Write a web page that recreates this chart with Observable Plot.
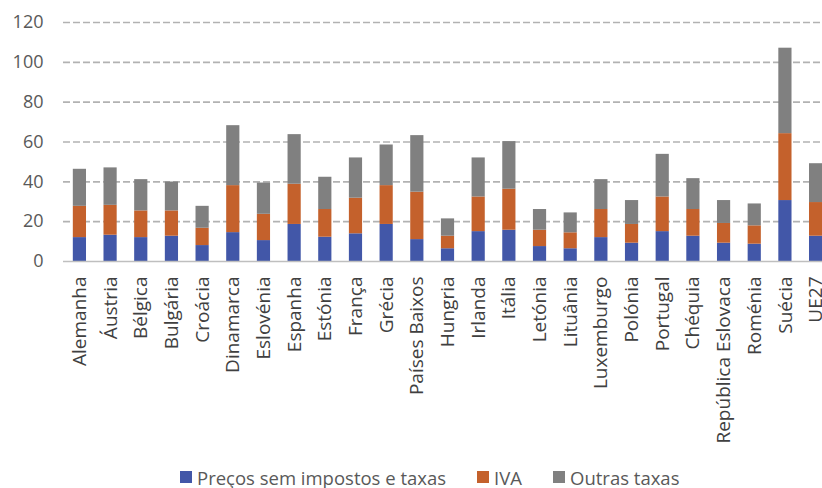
<!DOCTYPE html>
<html>
<head>
<meta charset="utf-8">
<script src="https://cdn.jsdelivr.net/npm/d3@7"></script>
<script src="https://cdn.jsdelivr.net/npm/@observablehq/plot@0.6"></script>
<style>
  html, body { margin: 0; padding: 0; background: #fff; overflow: hidden; }
  body { width: 822px; height: 488px; font-family: "Open Sans", sans-serif; }
  #chart { width: 822px; overflow: hidden; }
  #chart svg { display: block; max-width: none; }
  .legend { display: flex; align-items: center; height: 26px; margin-left: 180px; gap: 31px; font-size: 18.5px; color: #595959; }
  .legend .item { display: flex; align-items: center; gap: 5px; white-space: nowrap; }
  .legend .sw { width: 12px; height: 12px; display: inline-block; }
</style>
</head>
<body>
<div id="chart"></div>
<div class="legend" id="legend"></div>
<script>
const countries = ["Alemanha","Áustria","Bélgica","Bulgária","Croácia","Dinamarca","Eslovénia","Espanha","Estónia","França","Grécia","Países Baixos","Hungria","Irlanda","Itália","Letónia","Lituânia","Luxemburgo","Polónia","Portugal","Chéquia","República Eslovaca","Roménia","Suécia","UE27"];
const precos = [12.0,13.2,12.0,12.7,8.0,14.5,10.5,18.6,12.2,13.9,18.6,11.0,6.4,15.0,15.7,7.5,6.4,12.0,9.2,15.0,12.7,9.2,8.7,30.6,12.7];
const iva    = [15.7,15.0,13.4,12.7,8.7,23.6,13.2,20.2,13.9,17.9,19.5,23.8,6.3,17.4,20.6,8.2,8.0,14.1,9.4,17.4,13.4,9.9,9.2,33.6,16.9];
const outras = [18.6,18.8,15.7,14.5,11.0,30.1,15.7,24.9,16.2,20.2,20.4,28.4,8.7,19.6,23.9,10.4,10.0,15.0,12.0,21.4,15.5,11.5,11.0,42.9,19.5];
const seriesNames = ["Preços sem impostos e taxas","IVA","Outras taxas"];
const seriesColors = ["#4257A8","#C4612C","#808080"];
const yTicks = [0,20,40,60,80,100,120];

const data = [];
countries.forEach((c, i) => {
  [precos, iva, outras].forEach((arr, s) => {
    data.push({country: c, series: seriesNames[s], value: arr[i]});
  });
});

const chart = Plot.plot({
  width: 832,
  height: 464,
  marginTop: 22,
  marginBottom: 203,
  marginLeft: 63,
  marginRight: 0,
  style: {fontFamily: "'Open Sans', sans-serif", background: "#fff", maxWidth: "none"},
  x: {domain: countries, paddingInner: 0.57, paddingOuter: 0.32, round: false},
  y: {domain: [0, 120]},
  color: {domain: seriesNames, range: seriesColors},
  marks: [
    Plot.gridY(yTicks.slice(1), {stroke: "#b2b2b2", strokeOpacity: 1, strokeWidth: 1.6, strokeDasharray: "7,3"}),
    Plot.barY(data, {x: "country", y: "value", fill: "series"}),
    Plot.ruleY([0], {stroke: "#bfbfbf", strokeWidth: 1.5}),
    Plot.axisY({ticks: yTicks, tickSize: 0, tickPadding: 20, fontSize: 18, color: "#595959", label: null}),
    Plot.axisX({tickSize: 0, tickRotate: -90, tickPadding: 15, fontSize: 19, color: "#404040", label: null})
  ]
});
document.getElementById("chart").appendChild(chart);

const legend = document.getElementById("legend");
seriesNames.forEach((n, i) => {
  const item = document.createElement("span");
  item.className = "item";
  const sw = document.createElement("span");
  sw.className = "sw";
  sw.style.background = seriesColors[i];
  const t = document.createElement("span");
  t.textContent = n;
  item.appendChild(sw);
  item.appendChild(t);
  legend.appendChild(item);
});
</script>
</body>
</html>
